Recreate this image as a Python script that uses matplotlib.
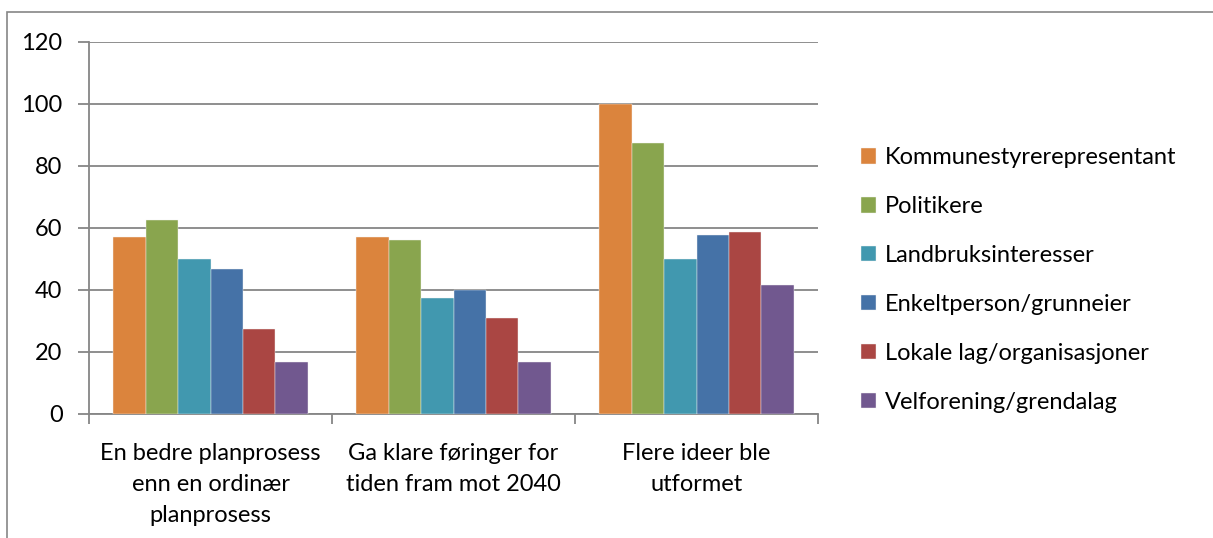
import matplotlib.pyplot as plt
from matplotlib.patches import Rectangle
import numpy as np

plt.rcParams['font.family'] = ['Lato', 'DejaVu Sans']

# data
categories = ["En bedre planprosess\nenn en ordinær\nplanprosess",
              "Ga klare føringer for\ntiden fram mot 2040",
              "Flere ideer ble\nutformet"]
series_names = ["Kommunestyrerepresentant", "Politikere", "Landbruksinteresser",
                "Enkeltperson/grunneier", "Lokale lag/organisasjoner", "Velforening/grendalag"]
kommunestyre = [57.1, 57.1, 100.0]
politikere = [62.5, 56.2, 87.5]
landbruk = [50.0, 37.5, 50.0]
enkeltperson = [46.7, 40.0, 57.7]
lokale_lag = [27.5, 31.0, 58.6]
velforening = [16.7, 16.7, 41.7]
colors = ["#DB843D", "#89A54E", "#4198AF", "#4572A7", "#AA4643", "#71588F"]

values = [kommunestyre, politikere, landbruk, enkeltperson, lokale_lag, velforening]

W, H = 1213, 538
fs = 17
fig = plt.figure(figsize=(W / 100, H / 100), dpi=100)
# outer chart border (only top/left visible)
fig.patches.append(Rectangle((7 / W, -0.1), 1.2, (H - 12) / H + 0.1, transform=fig.transFigure,
                             fill=False, edgecolor="#868686", linewidth=1.2))

ax = fig.add_axes([89 / W, 1 - 414 / H, (818 - 89) / W, (414 - 42) / H])

x = np.arange(len(categories))
bw = 0.8 / 6
for i, (vals, name, c) in enumerate(zip(values, series_names, colors)):
    ax.bar(x - 0.4 + bw * (i + 0.5), vals, width=bw, color=c, label=name,
           edgecolor="#f4f4f4", linewidth=0.3, zorder=3)

ax.set_xlim(-0.5, 2.5)
ax.set_ylim(0, 120)
ax.set_yticks(range(0, 121, 20))
ax.yaxis.grid(True, color="#868686", linewidth=1.3, zorder=0)
ax.set_axisbelow(True)
for s in ["top", "right"]:
    ax.spines[s].set_visible(False)
ax.spines["left"].set_color("#868686")
ax.spines["bottom"].set_color("#868686")
ax.spines["left"].set_linewidth(1.3)
ax.spines["bottom"].set_linewidth(1.3)

ax.set_xticks([-0.5, 0.5, 1.5, 2.5])
ax.set_xticklabels([])
ax.set_xticks(x, categories, minor=True)
ax.tick_params(axis="x", which="major", length=7, width=1.3, color="#868686")
ax.tick_params(axis="x", which="minor", length=0, pad=21, labelsize=fs)
ax.tick_params(axis="y", length=8, width=1.3, color="#868686", labelsize=fs, pad=11)
for lbl in ax.get_xticklabels(minor=True):
    lbl.set_multialignment("center")
    lbl.set_linespacing(1.58)

ax.legend(loc="center left", bbox_to_anchor=(840 / W, 1 - 280 / H), bbox_transform=fig.transFigure,
          frameon=False, fontsize=fs, handlelength=0.62, handleheight=0.62, handletextpad=0.4,
          labelspacing=1.18)

fig.savefig("out.png", dpi=100)
